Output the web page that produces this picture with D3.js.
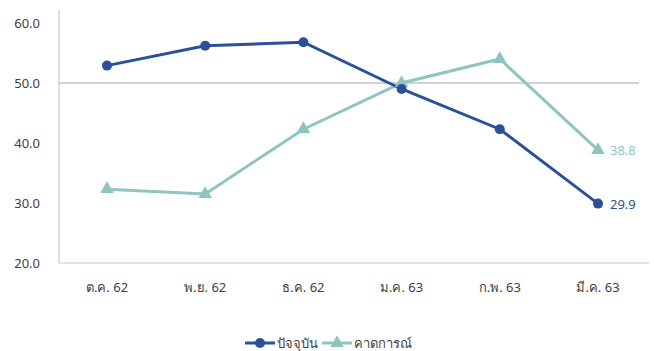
<!DOCTYPE html>
<html><head><meta charset="utf-8">
<script src="https://cdn.jsdelivr.net/npm/d3@7"></script>
<style>body{margin:0;background:#fff;font-family:"Noto Sans","Open Sans",sans-serif;}</style>
</head><body><div id="chart"></div>
<script>
const categories = ["ต.ค. 62","พ.ย. 62","ธ.ค. 62","ม.ค. 63","ก.พ. 63","มี.ค. 63"];
const currentValues = [52.9, 56.2, 56.8, 49.0, 42.3, 29.9];
const expectedValues = [32.3, 31.5, 42.3, 50.0, 54.0, 38.8];
const yTicks = [20, 30, 40, 50, 60];
const seriesNames = ["ปัจจุบัน", "คาดการณ์"];

const W = 654, H = 351;
const svg = d3.select("#chart").append("svg").attr("width", W).attr("height", H);
const x = d3.scalePoint().domain(categories).range([107, 598]);
const y = d3.scaleLinear().domain([20, 60]).range([263, 23]);
const left = 59;

svg.append("line").attr("x1", left).attr("x2", left).attr("y1", 10).attr("y2", y(20)).attr("stroke", "#bfbfbf");
svg.append("line").attr("x1", left).attr("x2", 649).attr("y1", y(20)).attr("y2", y(20)).attr("stroke", "#c8c8c8");
svg.append("line").attr("x1", left).attr("x2", 639).attr("y1", y(50)).attr("y2", y(50)).attr("stroke", "#a6a6a6");

svg.selectAll(".yt").data(yTicks).join("text").attr("x", 40).attr("y", d => y(d) + 5)
  .attr("text-anchor", "end").attr("font-size", 13).attr("fill", "#404040").text(d => d.toFixed(1));
svg.selectAll(".xt").data(categories).join("text").attr("x", d => x(d)).attr("y", 292)
  .attr("text-anchor", "middle").attr("font-size", 13).attr("fill", "#404040").text(d => d);

const blue = "#2b4f99", teal = "#8ec6bf";
const line = d3.line().x((d, i) => x(categories[i])).y(d => y(d));
svg.append("path").datum(expectedValues).attr("d", line).attr("fill", "none").attr("stroke", teal).attr("stroke-width", 3);
svg.append("path").datum(currentValues).attr("d", line).attr("fill", "none").attr("stroke", blue).attr("stroke-width", 3);
const tri = d3.symbol().type(d3.symbolTriangle).size(80);
svg.selectAll(".tm").data(expectedValues).join("path").attr("d", tri)
  .attr("transform", (d, i) => `translate(${x(categories[i])},${y(d)})`).attr("fill", teal);
svg.selectAll(".cm").data(currentValues).join("circle").attr("cx", (d, i) => x(categories[i])).attr("cy", d => y(d))
  .attr("r", 5).attr("fill", blue);

svg.append("text").attr("x", x(categories[5]) + 12).attr("y", y(expectedValues[5]) + 5).attr("font-size", 13)
  .attr("fill", teal).text(expectedValues[5].toFixed(1));
svg.append("text").attr("x", x(categories[5]) + 12).attr("y", y(currentValues[5]) + 5).attr("font-size", 13)
  .attr("fill", blue).text(currentValues[5].toFixed(1));

// legend
const lg = svg.append("g");
lg.append("line").attr("x1", 245).attr("x2", 275).attr("y1", 343).attr("y2", 343).attr("stroke", blue).attr("stroke-width", 3);
lg.append("circle").attr("cx", 260).attr("cy", 343).attr("r", 5).attr("fill", blue);
lg.append("text").attr("x", 277).attr("y", 348).attr("font-size", 13).attr("fill", "#404040").text(seriesNames[0]);
lg.append("line").attr("x1", 322).attr("x2", 352).attr("y1", 343).attr("y2", 343).attr("stroke", teal).attr("stroke-width", 3);
lg.append("path").attr("d", tri).attr("transform", "translate(337,343)").attr("fill", teal);
lg.append("text").attr("x", 354).attr("y", 348).attr("font-size", 13).attr("fill", "#404040").text(seriesNames[1]);
</script></body></html>
